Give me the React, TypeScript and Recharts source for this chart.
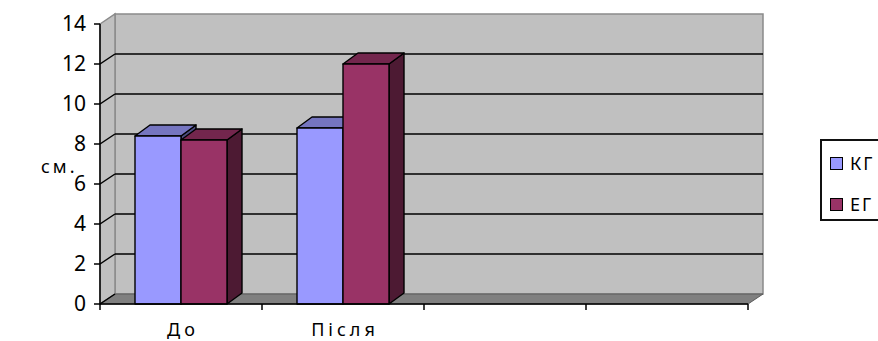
import React from 'react';
import { BarChart, Bar, XAxis, YAxis, CartesianGrid } from 'recharts';

const categories = ['До', 'Після', ' ', '  '];
const kgValues = [8.4, 8.8, null, null];
const egValues = [8.2, 12.0, null, null];
const seriesNames = ['КГ', 'ЕГ'];
const yTicks = [0, 2, 4, 6, 8, 10, 12, 14];

const data = categories.map((c, i) => ({ name: c, kg: kgValues[i], eg: egValues[i] }));

const FONT = '"Noto Sans", "Open Sans", sans-serif';
const W = 878;
const H = 341;
const PLOT_W = 648;
// 3D offset of the back wall
const DX = 15;
const DY = -10;
// bar depth
const BDX = 15;
const BDY = -11;

const colors = {
  kg: { front: '#9999FF', top: '#7575C0', side: '#4D4D80' },
  eg: { front: '#993366', top: '#73264D', side: '#4D1A33' },
};

const makeBar = (c: { front: string; top: string; side: string }) => (props: any) => {
  const { x, y, width, height } = props;
  if (!height || height <= 0) return <g />;
  const r = x + width;
  const b = y + height;
  return (
    <g stroke="#000" strokeWidth={1.4} strokeLinejoin="round">
      <polygon points={`${r},${y} ${r + BDX},${y + BDY} ${r + BDX},${b + BDY} ${r},${b}`} fill={c.side} />
      <polygon points={`${x},${y} ${x + BDX},${y + BDY} ${r + BDX},${y + BDY} ${r},${y}`} fill={c.top} />
      <rect x={x} y={y} width={width} height={height} fill={c.front} />
    </g>
  );
};

// grid lines drawn on the back wall; first call also draws the walls and floor
const gridLine = (props: any) => {
  const { x, y, width, height, y1, index } = props;
  const bottom = y + height;
  const right = x + width;
  const isTop = Math.abs(y1 - y) < 0.5;
  const isBottom = Math.abs(y1 - bottom) < 0.5;
  return (
    <g key={`gl-${index}`}>
      {index === 0 && (
        <g>
          <rect x={x + DX} y={y + DY} width={width} height={height} fill="#C0C0C0" stroke="#8a8a8a" strokeWidth={1.5} />
          <polygon
            points={`${x},${y} ${x + DX},${y + DY} ${x + DX},${bottom + DY} ${x},${bottom}`}
            fill="#C0C0C0"
            stroke="#8a8a8a"
            strokeWidth={1.5}
          />
          <polygon
            points={`${x},${bottom} ${right},${bottom} ${right + DX},${bottom + DY} ${x + DX},${bottom + DY}`}
            fill="#808080"
            stroke="#5a5a5a"
            strokeWidth={1}
          />
        </g>
      )}
      {!isTop && !isBottom && (
        <line x1={x + DX} y1={y1 + DY} x2={right + DX} y2={y1 + DY} stroke="#000" strokeWidth={1.5} />
      )}
      {!isTop && <line x1={x} y1={y1} x2={x + DX} y2={y1 + DY} stroke="#000" strokeWidth={1.5} />}
    </g>
  );
};

const XTick = (props: any) => {
  const { x, y, payload, index } = props;
  const half = payload && payload.offset ? payload.offset : PLOT_W / categories.length / 2;
  const axisY = y - 8;
  return (
    <g>
      <line x1={x - half} y1={axisY} x2={x - half} y2={axisY + 6} stroke="#000" strokeWidth={1.5} />
      {index === categories.length - 1 && (
        <line x1={x + half} y1={axisY} x2={x + half} y2={axisY + 6} stroke="#000" strokeWidth={1.5} />
      )}
      <text x={x + 2} y={y + 24} textAnchor="middle" fill="#000" fontSize={18} fontFamily={FONT} letterSpacing={4}>
        {payload.value}
      </text>
    </g>
  );
};

export default function App() {
  return (
    <div style={{ position: 'absolute', left: 0, top: 0, width: W, height: H, overflow: 'hidden', background: '#fff' }}>
      <BarChart
        width={W}
        height={H}
        data={data}
        margin={{ top: 24, right: 130, bottom: 7, left: 40 }}
        barGap={0}
        barSize={46}
      >
        <CartesianGrid vertical={false} horizontal={gridLine} />
        <XAxis
          dataKey="name"
          height={30}
          tickLine={false}
          tickSize={6}
          tickMargin={2}
          axisLine={{ stroke: '#000', strokeWidth: 1.5 }}
          tick={<XTick />}
          interval={0}
        />
        <YAxis
          width={60}
          domain={[0, 14]}
          ticks={yTicks}
          interval={0}
          tickSize={6}
          tickMargin={8}
          axisLine={{ stroke: '#000', strokeWidth: 1.5 }}
          tickLine={{ stroke: '#000', strokeWidth: 1.5 }}
          tick={{ fill: '#000', fontSize: 21, fontFamily: FONT }}
          label={{
            value: 'см.',
            position: 'insideLeft',
            offset: 1,
            dy: 3,
            fill: '#000',
            fontSize: 18,
            fontFamily: FONT,
            letterSpacing: 3,
          }}
        />
        <Bar dataKey="kg" name={seriesNames[0]} shape={makeBar(colors.kg)} isAnimationActive={false} />
        <Bar dataKey="eg" name={seriesNames[1]} shape={makeBar(colors.eg)} isAnimationActive={false} />
      </BarChart>
      <div
        style={{
          position: 'absolute',
          left: 820,
          top: 139,
          width: 80,
          height: 78,
          border: '2px solid #111',
          background: '#fff',
          fontFamily: FONT,
          fontSize: 18,
          color: '#000',
        }}
      >
        {seriesNames.map((n, i) => (
          <div key={n} style={{ position: 'absolute', left: 8, top: 12 + i * 41, display: 'flex', alignItems: 'center' }}>
            <span
              style={{
                display: 'inline-block',
                width: 11,
                height: 11,
                border: '1.5px solid #000',
                background: i === 0 ? colors.kg.front : colors.eg.front,
                marginRight: 7,
              }}
            />
            <span style={{ letterSpacing: 2, lineHeight: '20px' }}>{n}</span>
          </div>
        ))}
      </div>
    </div>
  );
}
